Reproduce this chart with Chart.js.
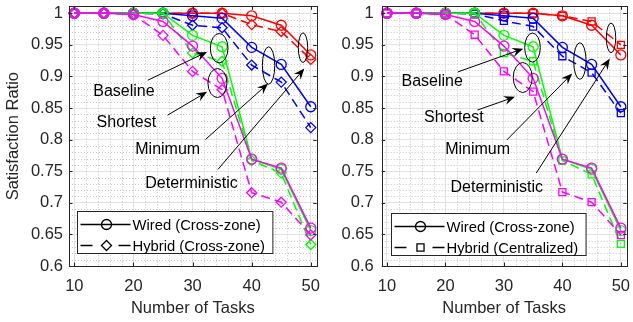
<!DOCTYPE html>
<html>
<head>
<meta charset="utf-8">
<script src="https://cdn.jsdelivr.net/npm/chart.js@4.4.1/dist/chart.umd.min.js"></script>
<style>
  body { margin: 0; background: #fff; overflow: hidden; }
  .panel { position: absolute; top: 0; }
</style>
</head>
<body>
<canvas id="leftChart" class="panel" style="left:0" width="323" height="322"></canvas>
<canvas id="rightChart" class="panel" style="left:323px" width="310" height="322"></canvas>
<script>
const tasks = [10, 15, 20, 25, 30, 35, 40, 45, 50];
const xTicks = [10, 20, 30, 40, 50];
const yTicks = [0.6, 0.65, 0.7, 0.75, 0.8, 0.85, 0.9, 0.95, 1];
const methods = ['Baseline', 'Shortest', 'Minimum', 'Deterministic'];

// wired (cross-zone), same in both panels
const wiredBaseline      = [1, 1, 1, 1, 0.965, 0.947, 0.769, 0.753, 0.656];
const wiredShortest      = [1, 1, 0.998, 0.987, 0.948, 0.897, 0.769, 0.755, 0.660];
const wiredMinimum       = [1, 1, 1, 1, 0.996, 0.992, 0.946, 0.919, 0.852];
const wiredDeterministic = [1, 1, 1, 1, 1, 1, 0.996, 0.981, 0.934];

// hybrid (cross-zone), left panel
const crossBaseline      = [1, 1, 1, 1, 0.937, 0.924, 0.767, 0.747, 0.634];
const crossShortest      = [1, 1, 0.998, 0.965, 0.908, 0.879, 0.716, 0.701, 0.649];
const crossMinimum       = [1, 1, 1, 0.999, 0.981, 0.977, 0.918, 0.891, 0.819];
const crossDeterministic = [1, 1, 1, 1, 1, 1, 0.982, 0.971, 0.927];

// hybrid (centralized), right panel
const centralBaseline      = [1, 1, 1, 1, 0.937, 0.924, 0.767, 0.745, 0.635];
const centralShortest      = [1, 1, 0.998, 0.966, 0.908, 0.876, 0.717, 0.701, 0.649];
const centralMinimum       = [1, 1, 1, 0.999, 0.988, 0.979, 0.932, 0.906, 0.842];
const centralDeterministic = [1, 1, 1, 1, 1, 1, 0.996, 0.987, 0.950];

const leftLegend = ['Wired (Cross-zone)', 'Hybrid (Cross-zone)'];
const rightLegend = ['Wired (Cross-zone)', 'Hybrid (Centralized)'];

const colors = { Baseline: '#00ff00', Shortest: '#ff00ff', Minimum: '#0000ff', Deterministic: '#ff0000' };
const FONT = '"Liberation Sans", Arial, sans-serif';
const INK = '#262626';

function series(name, values, hybrid, marker) {
  return {
    label: name + (hybrid ? ' hybrid' : ' wired'),
    data: tasks.map((t, i) => ({ x: t, y: values[i] })),
    borderColor: colors[name],
    backgroundColor: 'rgba(0,0,0,0)',
    borderWidth: 1.5,
    borderDash: hybrid ? [9, 5] : [],
    pointStyle: marker,
    pointRadius: 5,
    pointHoverRadius: 5,
    pointBorderWidth: 1.3,
    pointBorderColor: colors[name],
    pointBackgroundColor: 'rgba(0,0,0,0)',
    tension: 0,
    clip: false
  };
}

function buildDatasets(hybridSets, marker) {
  // first dataset is drawn on top in Chart.js
  return [
    series('Shortest', wiredShortest, false, 'circle'),
    series('Shortest', hybridSets[1], true, marker),
    series('Baseline', wiredBaseline, false, 'circle'),
    series('Baseline', hybridSets[0], true, marker),
    series('Minimum', wiredMinimum, false, 'circle'),
    series('Minimum', hybridSets[2], true, marker),
    series('Deterministic', wiredDeterministic, false, 'circle'),
    series('Deterministic', hybridSets[3], true, marker)
  ];
}

function marker(ctx, style, cx, cy, r) {
  ctx.beginPath();
  if (style === 'circle') {
    ctx.arc(cx, cy, r, 0, Math.PI * 2);
  } else if (style === 'rect') {
    const s = r * Math.SQRT1_2;
    ctx.rect(cx - s, cy - s, 2 * s, 2 * s);
  } else {
    ctx.moveTo(cx - r, cy); ctx.lineTo(cx, cy - r); ctx.lineTo(cx + r, cy); ctx.lineTo(cx, cy + r); ctx.closePath();
  }
  ctx.stroke();
}

const matlabAxes = {
  id: 'matlabAxes',
  beforeDatasetsDraw(chart) {
    const { ctx, chartArea: a, scales: { x, y } } = chart;
    ctx.save();
    ctx.strokeStyle = '#c6c6c6';
    ctx.lineWidth = 1;
    ctx.setLineDash([1, 2]);
    for (let v = 12; v < 51; v += 2) {
      if (v % 10 === 0) continue;
      const px = Math.round(x.getPixelForValue(v)) + 0.5;
      ctx.beginPath(); ctx.moveTo(px, a.top); ctx.lineTo(px, a.bottom); ctx.stroke();
    }
    for (let k = 61; k <= 100; k++) {
      if (k % 5 === 0) continue;
      const py = Math.round(y.getPixelForValue(k / 100)) + 0.5;
      ctx.beginPath(); ctx.moveTo(a.left, py); ctx.lineTo(a.right, py); ctx.stroke();
    }
    ctx.restore();
  },
  afterDatasetsDraw(chart, args, opts) {
    const { ctx, chartArea: a, scales: { x, y } } = chart;
    ctx.save();
    // box + inward ticks
    ctx.strokeStyle = INK;
    ctx.lineWidth = 1;
    ctx.strokeRect(Math.round(a.left) + 0.5, Math.round(a.top) + 0.5,
      Math.round(a.right - a.left), Math.round(a.bottom - a.top));
    ctx.beginPath();
    for (const v of xTicks) {
      const px = Math.round(x.getPixelForValue(v)) + 0.5;
      ctx.moveTo(px, a.bottom); ctx.lineTo(px, a.bottom - 3.5);
      ctx.moveTo(px, a.top); ctx.lineTo(px, a.top + 3.5);
    }
    for (const v of yTicks) {
      const py = Math.round(y.getPixelForValue(v)) + 0.5;
      ctx.moveTo(a.left, py); ctx.lineTo(a.left + 3.5, py);
      ctx.moveTo(a.right, py); ctx.lineTo(a.right - 3.5, py);
    }
    ctx.stroke();

    // annotations: ellipse, arrow, label
    ctx.strokeStyle = '#000';
    ctx.fillStyle = '#000';
    ctx.font = '16px ' + FONT;
    ctx.textAlign = 'center';
    ctx.textBaseline = 'middle';
    opts.notes.forEach((n, i) => {
      const ex = x.getPixelForValue(n.ellipse[0]), ey = y.getPixelForValue(n.ellipse[1]);
      ctx.beginPath();
      ctx.ellipse(ex, ey, n.ellipse[2], n.ellipse[3], 0, 0, Math.PI * 2);
      ctx.stroke();
      const x0 = x.getPixelForValue(n.tail[0]), y0 = y.getPixelForValue(n.tail[1]);
      const x1 = x.getPixelForValue(n.tip[0]), y1 = y.getPixelForValue(n.tip[1]);
      const len = Math.hypot(x1 - x0, y1 - y0);
      const ux = (x1 - x0) / len, uy = (y1 - y0) / len;
      ctx.beginPath(); ctx.moveTo(x0, y0); ctx.lineTo(x1 - 6 * ux, y1 - 6 * uy); ctx.stroke();
      const L = 11, W = 4.5;
      ctx.beginPath();
      ctx.moveTo(x1, y1);
      ctx.lineTo(x1 - L * ux - W * uy, y1 - L * uy + W * ux);
      ctx.lineTo(x1 - 0.65 * L * ux, y1 - 0.65 * L * uy);
      ctx.lineTo(x1 - L * ux + W * uy, y1 - L * uy - W * ux);
      ctx.closePath();
      ctx.fill();
      ctx.fillText(methods[i], x.getPixelForValue(n.text[0]), y.getPixelForValue(n.text[1]));
    });

    // legend box
    const lg = opts.legend;
    ctx.font = '14.8px ' + FONT;
    const textW = Math.max(...lg.labels.map(t => ctx.measureText(t).width));
    const bw = 55 + textW + 8, bh = 42;
    const bx = Math.round(a.left + lg.dx) + 0.5, by = Math.round(a.bottom - lg.dy - bh) + 0.5;
    ctx.fillStyle = '#fff';
    ctx.fillRect(bx, by, bw, bh);
    ctx.strokeStyle = INK;
    ctx.strokeRect(bx, by, bw, bh);
    ctx.strokeStyle = '#000';
    ctx.fillStyle = '#000';
    ctx.lineWidth = 1.5;
    ctx.textAlign = 'left';
    lg.labels.forEach((t, i) => {
      const ry = by + 13 + i * 21;
      ctx.setLineDash(i === 0 ? [] : [12, 26]);
      ctx.beginPath(); ctx.moveTo(bx + 3, ry); ctx.lineTo(bx + 53, ry); ctx.stroke();
      ctx.setLineDash([]);
      ctx.lineWidth = 1.3;
      marker(ctx, lg.markers[i], bx + 29, ry, 5);
      ctx.lineWidth = 1.5;
      ctx.fillText(t, bx + 55, ry + 1);
    });
    ctx.restore();
  }
};

function makeChart(id, datasets, cfg) {
  return new Chart(document.getElementById(id), {
    type: 'line',
    data: { datasets },
    plugins: [matlabAxes],
    options: {
      responsive: false,
      animation: false,
      events: [],
      layout: { padding: { top: 6, right: cfg.padRight, bottom: 0, left: 0 } },
      plugins: {
        legend: { display: false },
        tooltip: { enabled: false },
        matlabAxes: { notes: cfg.notes, legend: cfg.legend }
      },
      scales: {
        x: {
          type: 'linear',
          min: 9.1,
          max: 51,
          afterBuildTicks: s => { s.ticks = xTicks.map(v => ({ value: v })); },
          afterFit: s => { s.height = 56; s.paddingLeft = 0; s.paddingRight = 0; },
          grid: { color: '#e2e2e2', lineWidth: 1, drawTicks: false },
          border: { display: false },
          ticks: { color: INK, padding: 11, maxRotation: 0, font: { family: FONT, size: 16.5 } },
          title: { display: true, text: 'Number of Tasks', color: INK, padding: { top: 0, bottom: 4 },
                   font: { family: FONT, size: 16.5, lineHeight: 1.2 } }
        },
        y: {
          min: 0.6,
          max: 1.011,
          afterBuildTicks: s => { s.ticks = yTicks.map(v => ({ value: v })); },
          afterFit: s => { s.width = cfg.axisWidth; s.paddingTop = 0; s.paddingBottom = 0; },
          grid: { color: '#e2e2e2', lineWidth: 1, drawTicks: false },
          border: { display: false },
          ticks: { color: INK, padding: cfg.tickPad, font: { family: FONT, size: 16.5 },
                   callback: v => String(Number(v.toFixed(2))) },
          title: { display: cfg.yTitle, text: 'Satisfaction Ratio', color: INK, padding: { top: 3.4, bottom: 0 },
                   font: { family: FONT, size: 16.5, lineHeight: 1.2 } }
        }
      }
    }
  });
}

makeChart('leftChart',
  buildDatasets([crossBaseline, crossShortest, crossMinimum, crossDeterministic], 'rectRot'),
  {
    axisWidth: 69, padRight: 3.5, tickPad: 6, yTitle: true,
    legend: { labels: leftLegend, markers: ['circle', 'rectRot'], dx: 8, dy: 13 },
    notes: [
      { ellipse: [34.50, 0.9447, 8.8, 14.7], tail: [22.43, 0.894], tip: [32.46, 0.9388], text: [18.39, 0.8767] },
      { ellipse: [34.21, 0.8896, 9.5, 14.5], tail: [25.77, 0.8387], tip: [32.46, 0.8756], text: [18.81, 0.8266] },
      { ellipse: [42.86, 0.9173, 6.2, 18.7], tail: [32.19, 0.8003], tip: [42.78, 0.8888], text: [25.80, 0.785] },
      { ellipse: [48.68, 0.9455, 4.7, 14.8], tail: [34.30, 0.7529], tip: [48.91, 0.9126], text: [29.82, 0.7312] }
    ]
  });

makeChart('rightChart',
  buildDatasets([centralBaseline, centralShortest, centralMinimum, centralDeterministic], 'rect'),
  {
    axisWidth: 58.7, padRight: 0, tickPad: 8, yTitle: false,
    legend: { labels: rightLegend, markers: ['circle', 'rect'], dx: 9, dy: 11 },
    notes: [
      { ellipse: [34.89, 0.9457, 7.8, 14.5], tail: [22.12, 0.9071], tip: [33.30, 0.944], text: [17.73, 0.8924] },
      { ellipse: [33.22, 0.8983, 9.5, 15.0], tail: [25.47, 0.8468], tip: [31.90, 0.8677], text: [21.45, 0.8346] },
      { ellipse: [42.99, 0.9244, 6.2, 18.3], tail: [30.50, 0.7995], tip: [41.68, 0.9046], text: [25.51, 0.7838] },
      { ellipse: [48.32, 0.961, 4.7, 14.8], tail: [35.53, 0.7471], tip: [48.11, 0.9282], text: [28.78, 0.7235] }
    ]
  });
</script>
</body>
</html>
